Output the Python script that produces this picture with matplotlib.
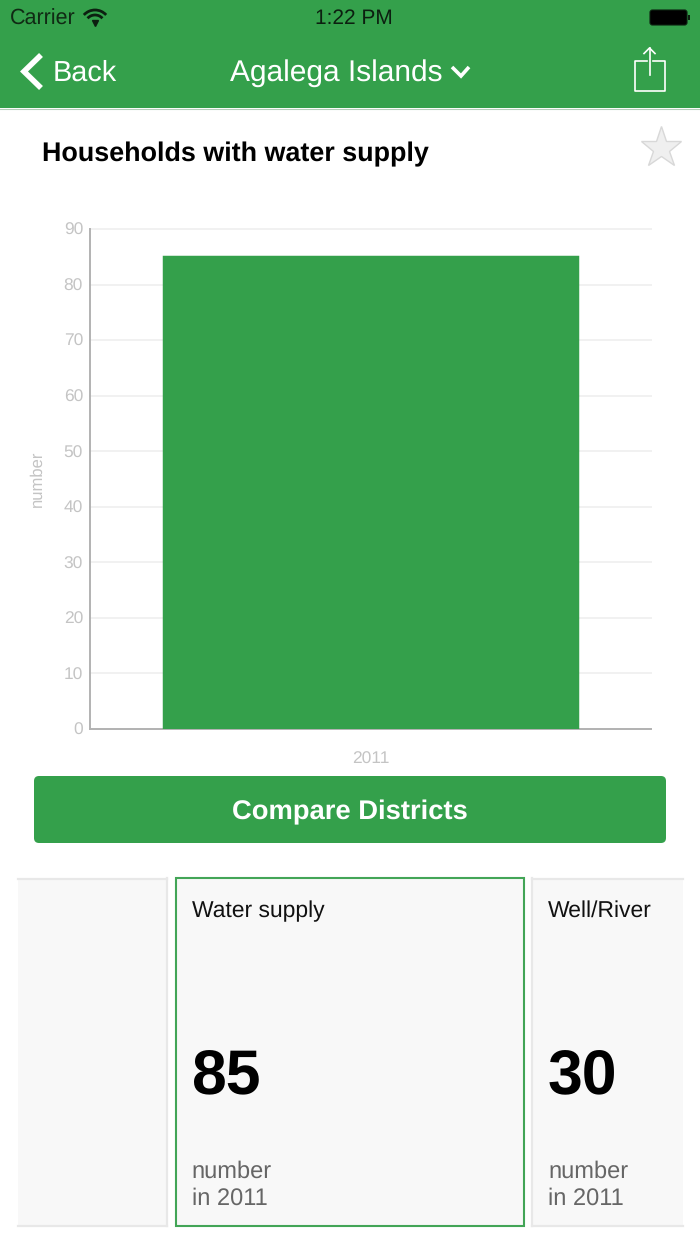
# -*- coding: utf-8 -*-
"""Households with water supply screen, bar chart plus the app chrome around it."""

import matplotlib

matplotlib.use("Agg")
import matplotlib.pyplot as plt
from matplotlib.patches import Arc, FancyBboxPatch, Rectangle

GREEN = "#34a04b"
WIDTH, HEIGHT = 700, 1244

years = ["2011"]
households = [85]
y_ticks = [0, 10, 20, 30, 40, 50, 60, 70, 80, 90]
y_label = "number"
title = "Households with water supply"
district = "Agalega Islands"
card_names = ["Water supply", "Well/River"]
card_values = ["85", "30"]
card_units = ["number\nin 2011", "number\nin 2011"]

plt.rcParams["font.family"] = ["Liberation Sans", "DejaVu Sans"]
plt.rcParams["text.hinting"] = "no_hinting"


def draw_chart(fig):
    ax = fig.add_axes([90 / WIDTH, 1 - 729 / HEIGHT, 561 / WIDTH, 500 / HEIGHT])
    # the edge makes the bar sit a touch higher, as it does in the app
    ax.bar(years, households, width=0.737, color=GREEN, edgecolor=GREEN, linewidth=2.5, zorder=3)
    ax.set_xlim(-0.5, 0.5)
    ax.set_ylim(0, 90)
    ax.set_yticks(y_ticks)
    ax.grid(axis="y", color="#f1f1f1", linewidth=1.4, zorder=0)
    for line in ax.get_ygridlines():
        line.set_clip_on(False)
    ax.tick_params(axis="both", length=0, labelcolor="#c4c4c4", labelsize=12.5)
    ax.tick_params(axis="x", pad=16)
    ax.tick_params(axis="y", pad=5)
    ax.set_ylabel(y_label, color="#c4c4c4", fontsize=12, labelpad=13)
    for side in ["top", "right"]:
        ax.spines[side].set_visible(False)
    for side in ["left", "bottom"]:
        ax.spines[side].set_color("#b2b2b2")
        ax.spines[side].set_linewidth(1.4)


def draw_header(ui):
    ui.add_patch(Rectangle((0, 0), WIDTH, 108, color=GREEN, lw=0))
    ui.plot([0, WIDTH], [108.5, 108.5], color="#b5cdb9", lw=0.8)
    ui.text(10, 19, "Carrier", color="#102a14", fontsize=15.5, va="center")
    ui.text(354, 19, "1:22 PM", color="#0c1f10", fontsize=15, va="center", ha="center")

    # wifi glyph
    for size in [30, 20]:
        ui.add_patch(Arc((95, 25), size, size, theta1=222, theta2=318, color="#0c1f10", lw=2))
    ui.plot([95], [22.5], marker="v", color="#0c1f10", ms=5)

    # battery
    ui.add_patch(FancyBboxPatch((650, 10), 37, 15, boxstyle="round,pad=0,rounding_size=2.5",
                                fc="black", ec="#0c1f10", lw=0.8))
    ui.add_patch(Rectangle((688, 15), 1.5, 5, color="#0c1f10", lw=0))

    ui.plot([41, 24, 41], [55, 71.5, 88], color="white", lw=4, solid_capstyle="butt",
            solid_joinstyle="miter")
    ui.text(53, 73.5, "Back", color="white", fontsize=20.8, va="center")
    ui.text(230, 73.5, district, color="white", fontsize=21.5, va="center")
    ui.plot([452, 461, 469], [67, 76, 67], color="white", lw=2.6, solid_capstyle="butt",
            solid_joinstyle="miter")

    # share icon
    ui.plot([647, 634.5, 634.5, 665, 665, 653], [61, 61, 90.5, 90.5, 61, 61], color="white", lw=1.2)
    ui.plot([649.5, 649.5], [75, 48], color="white", lw=1.2)
    ui.plot([644, 649.5, 655], [53.5, 48, 53.5], color="white", lw=1.2)


def draw_cards(ui):
    # left card is cut by the edge of the scroller, nothing readable on it
    for x0, x1, right_open in [(18, 167, False), (532, 683, True)]:
        ui.add_patch(Rectangle((x0, 878), x1 - x0, 348, fc="#f8f8f8", ec="none"))
        ui.plot([x0, x1], [878.5, 878.5], color="#e8e8e8", lw=1.6)
        ui.plot([x0, x1], [1226, 1226], color="#e8e8e8", lw=1.6)
        ui.plot([x1 if not right_open else x0] * 2, [878, 1226], color="#e8e8e8", lw=1.6)

    ui.add_patch(Rectangle((175.5, 878), 348.5, 348, fc="#f8f8f8", ec="#43a557", lw=1.5))

    for x, name, value, unit in zip([191.5, 548], card_names, card_values, card_units):
        ui.text(x, 911, name, color="#111111", fontsize=16.5, va="center")
        ui.text(x, 1078, value, color="black", fontsize=45, weight="bold", va="center")
        ui.text(x, 1185, unit, color="#666666", fontsize=17, va="center", linespacing=1.31)


def main():
    fig = plt.figure(figsize=(WIDTH / 100, HEIGHT / 100), dpi=100, facecolor="white")

    ui = fig.add_axes([0, 0, 1, 1])
    ui.set_xlim(0, WIDTH)
    ui.set_ylim(HEIGHT, 0)
    ui.axis("off")

    draw_chart(fig)
    draw_header(ui)

    ui.text(42, 154, title, color="black", fontsize=19.4, weight="bold", va="center")
    ui.plot([661], [148], marker="*", ms=31, mfc="#efefef", mec="#d8d8d8", mew=1)

    ui.add_patch(FancyBboxPatch((34, 776), 632, 67, boxstyle="round,pad=0,rounding_size=5",
                                fc=GREEN, ec="none"))
    ui.text(350, 812, "Compare Districts", color="white", fontsize=19.7, weight="bold",
            va="center", ha="center")

    draw_cards(ui)

    fig.savefig("out.png", dpi=100)
    plt.close(fig)


if __name__ == "__main__":
    main()
